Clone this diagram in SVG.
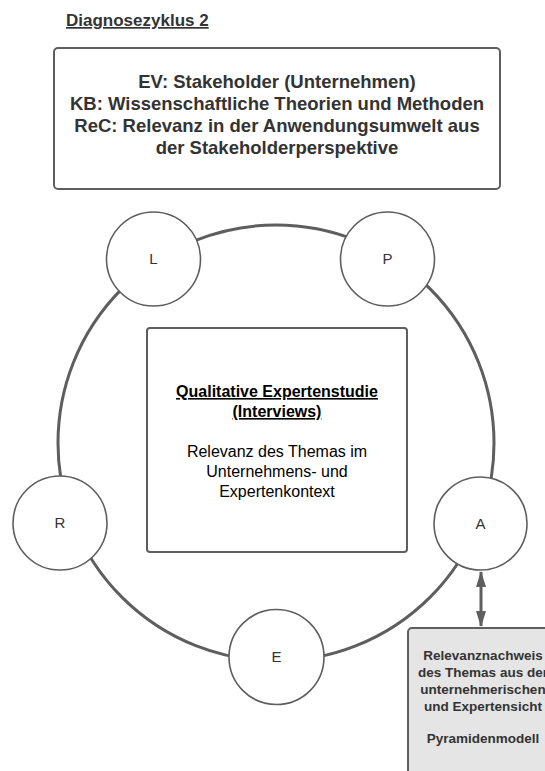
<svg xmlns="http://www.w3.org/2000/svg" width="545" height="771" viewBox="0 0 545 771">
  <style>
    text { font-family: "Liberation Sans", Arial, sans-serif; }
    .ring { fill: none; stroke: #5e5e5e; stroke-width: 3; }
    .node { fill: #ffffff; stroke: #5e5e5e; stroke-width: 1.6; }
    .box { fill: #ffffff; stroke: #5e5e5e; stroke-width: 2; }
    .result { fill: #e5e5e5; stroke: #5e5e5e; stroke-width: 2; }
    .letter { font-size: 15px; fill: #333333; text-anchor: middle; }
    .head { font-size: 18.5px; font-weight: bold; fill: #333333; text-anchor: middle; }
    .title { font-size: 16px; font-weight: bold; fill: #000000; text-anchor: middle; text-decoration: underline; }
    .body { font-size: 16px; fill: #000000; text-anchor: middle; }
    .small { font-size: 13.5px; font-weight: bold; fill: #333333; text-anchor: middle; }
    .link { stroke: #5e5e5e; stroke-width: 3; fill: none; }
  </style>
  <defs>
    <marker id="tip" viewBox="0 0 16 10" refX="15" refY="5" markerWidth="5.3" markerHeight="3.6" orient="auto-start-reverse" markerUnits="strokeWidth">
      <path d="M0,0 L16,5 L0,10 Z" fill="#5e5e5e"/>
    </marker>
  </defs>

  <rect width="545" height="771" fill="#ffffff"/>

  <!-- heading -->
  <g id="heading">
    <text x="66" y="26" style="font-size:17px;font-weight:bold;fill:#333333;text-decoration:underline">Diagnosezyklus 2</text>
  </g>

  <!-- context box -->
  <g id="context">
    <rect class="box" x="54" y="48" width="446" height="141" rx="4"/>
    <text class="head" x="277" y="88">EV: Stakeholder (Unternehmen)</text>
    <text class="head" x="277" y="110">KB: Wissenschaftliche Theorien und Methoden</text>
    <text class="head" x="277" y="132">ReC: Relevanz in der Anwendungsumwelt aus</text>
    <text class="head" x="277" y="154">der Stakeholderperspektive</text>
  </g>

  <!-- connectors: cycle ring and result link -->
  <g id="connectors">
    <circle class="ring" cx="276" cy="443" r="218"/>
    <line class="link" x1="481" y1="572" x2="481" y2="626" marker-start="url(#tip)" marker-end="url(#tip)"/>
  </g>

  <!-- central study box -->
  <g id="study">
    <rect class="box" x="147" y="328" width="260" height="224" rx="3"/>
    <text class="title" x="277" y="397">Qualitative Expertenstudie</text>
    <text class="title" x="277" y="417">(Interviews)</text>
    <text class="body" x="277" y="457">Relevanz des Themas im</text>
    <text class="body" x="277" y="477">Unternehmens- und</text>
    <text class="body" x="277" y="497">Expertenkontext</text>
  </g>

  <!-- cycle phases -->
  <g id="phase-L">
    <circle class="node" cx="153.5" cy="259" r="47"/>
    <text class="letter" x="153.5" y="264">L</text>
  </g>
  <g id="phase-P">
    <circle class="node" cx="387.5" cy="259" r="47"/>
    <text class="letter" x="387.5" y="264">P</text>
  </g>
  <g id="phase-A">
    <circle class="node" cx="480.5" cy="523.5" r="46.5"/>
    <text class="letter" x="480.5" y="528.5">A</text>
  </g>
  <g id="phase-E">
    <circle class="node" cx="276.5" cy="657" r="47.5"/>
    <text class="letter" x="276.5" y="662">E</text>
  </g>
  <g id="phase-R">
    <circle class="node" cx="60" cy="523" r="47"/>
    <text class="letter" x="60" y="528">R</text>
  </g>

  <!-- result box -->
  <g id="result">
    <rect class="result" x="408" y="628" width="150" height="160" rx="4"/>
    <text class="small" x="483" y="660">Relevanznachweis</text>
    <text class="small" x="483" y="677">des Themas aus der</text>
    <text class="small" x="483" y="694">unternehmerischen</text>
    <text class="small" x="483" y="711">und Expertensicht</text>
    <text class="small" x="483" y="743">Pyramidenmodell</text>
  </g>
</svg>
